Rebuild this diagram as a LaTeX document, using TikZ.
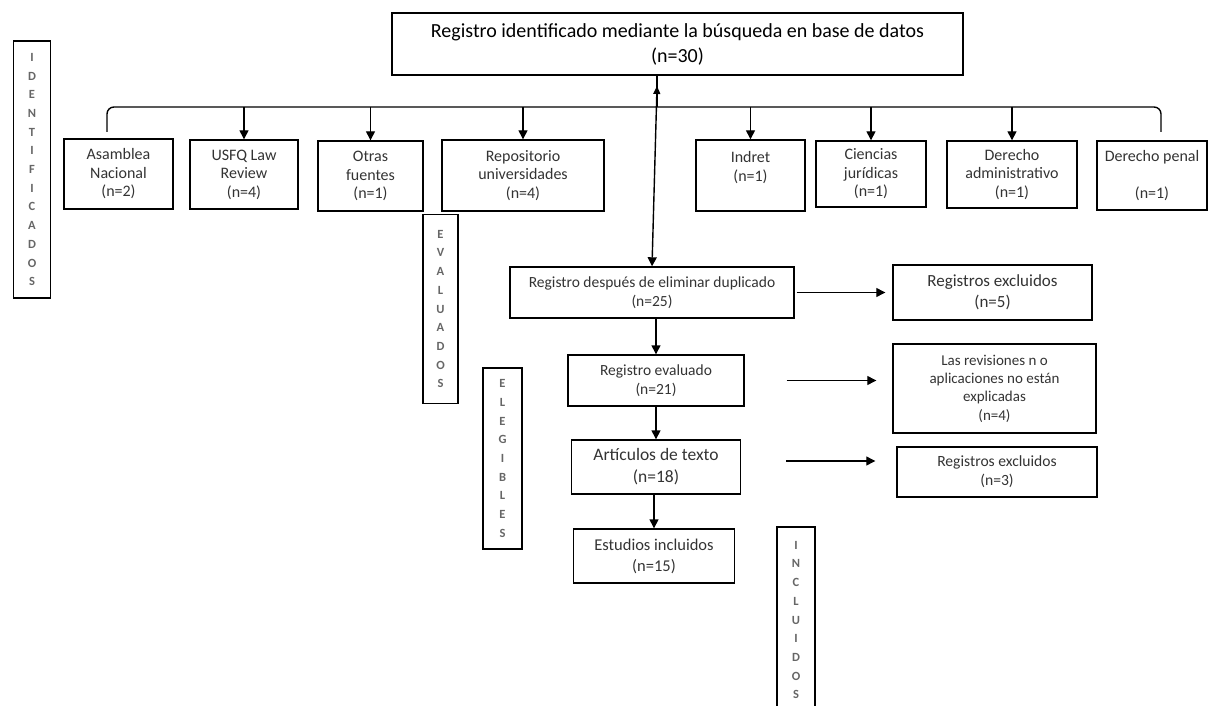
\documentclass[tikz,border=0pt]{standalone}
\usepackage{fontspec}
\setmainfont{Carlito}
\usetikzlibrary{arrows.meta, calc, positioning}

\tikzset{
	box/.style={draw, line width=1.4pt, align=center, inner sep=0pt, text=black!80},
	letters/.style={draw, line width=1.4pt, align=center, inner sep=0pt, minimum width=37, text=black!60, font=\fontsize{12.5}{18.7}\selectfont\bfseries},
	flow/.style={-{Triangle[length=9pt,width=9pt]}, line width=1.4pt},
	small/.style={font=\fontsize{16}{18.5}\selectfont}
}

\begin{document}
\begin{tikzpicture}[x=1pt,y=-1pt]
			\useasboundingbox (0,0) rectangle (1215,706);
			
			\node(top) [box, text=black, minimum width=571, minimum height=62, font=\fontsize{20}{25}\selectfont] at (677.5,44) {Registro identificado mediante la búsqueda en base de datos\\ (n=30)};
			
			% sources
			\node(asamblea) [box, small, minimum width=109, minimum height=70] at (118.5,174) {Asamblea\\ Nacional\\ (n=2)};
			\node(usfq) [box, small, minimum width=108, minimum height=69] at (244,174.5) {USFQ Law\\ Review\\ (n=4)};
			\node(otras) [box, small, minimum width=105, minimum height=70] at (370.5,176) {Otras\\ fuentes\\ (n=1)};
			\node(repositorio) [box, small, minimum width=162, minimum height=71] at (523,175.5) {Repositorio\\ universidades\\ (n=4)};
			\node(indret) [box, small, minimum width=109, minimum height=71] at (750.5,175.5) {Indret\\ (n=1)\\ \mbox{}};
			\node(ciencias) [box, small, minimum width=110, minimum height=66] at (871,174) {Ciencias\\ jurídicas\\ (n=1)};
			\node(administrativo) [box, small, minimum width=130, minimum height=67] at (1012,174.5) {Derecho\\ administrativo\\ (n=1)};
			\node(penal) [box, small, minimum width=110, minimum height=69] at (1152,175.5) {Derecho penal\\ \mbox{}\\ (n=1)};
			
			% phase labels
			\node(identificados) [letters, minimum height=257] at (32,169.5) {I\\D\\E\\N\\T\\I\\F\\I\\C\\A\\D\\O\\S};
			\node(evaluados) [letters, minimum width=35, minimum height=189] at (440.5,309) {E\\V\\A\\L\\U\\A\\D\\O\\S};
			\node(elegibles) [letters, minimum width=39, minimum height=181] at (502.5,458.5) {E\\L\\E\\G\\I\\B\\L\\E\\S};
			\node(incluidos) [letters, minimum width=38, minimum height=186] at (796,620) {I\\N\\C\\L\\U\\I\\D\\O\\S};
			
			% main flow
			\node(duplicado) [box, minimum width=284, minimum height=51, font=\fontsize{15.5}{19}\selectfont] at (652,292.5) {Registro después de eliminar duplicado\\ (n=25)};
			\node(excluidos) [box, minimum width=199, minimum height=55, font=\fontsize{17}{21}\selectfont] at (992.5,292.5) {Registros excluidos\\ (n=5)};
			\node(evaluado) [box, minimum width=176, minimum height=51, font=\fontsize{15.5}{19}\selectfont] at (656,380.5) {Registro evaluado\\ (n=21)};
			\node(revisiones) [box, minimum width=203, minimum height=89, font=\fontsize{15}{18.3}\selectfont] at (994.5,388.5) {Las revisiones n o\\ aplicaciones no están\\ explicadas\\ (n=4)};
			\node(articulos) [box, minimum width=169, minimum height=54, font=\fontsize{17.5}{22}\selectfont] at (656,467) {Artículos de texto\\ (n=18)};
			\node(excluidosb) [box, minimum width=200, minimum height=50, font=\fontsize{15.6}{19}\selectfont] at (997,472) {Registros excluidos\\ (n=3)};
			\node(estudios) [box, minimum width=161, minimum height=54, font=\fontsize{16.5}{21}\selectfont] at (654,556) {Estudios incluidos\\ (n=15)};
			
			% bracket under the search box
			\coordinate(junc) at (657,107);
			\coordinate(jtip) at (657,86);
			\coordinate(bl) at (107,132);
			\coordinate(br) at (1161,132);
			\draw[line width=1.4pt] (top.south -| junc) -- (junc);
			\draw[line width=1.4pt, rounded corners=7] (bl) -- (bl |- junc) -- (br |- junc) -- (br);
			\draw[line width=1.4pt, {Triangle[length=8pt,width=7pt]}-{Triangle[length=9pt,width=9pt]}] (jtip) -- (duplicado.north);
			
			\draw[flow] (usfq.north |- junc) -- (usfq.north);
			\draw[flow] (otras.north |- junc) -- (otras.north);
			\draw[flow] (repositorio.north |- junc) -- (repositorio.north);
			\draw[flow] (indret.north |- junc) -- (indret.north);
			\draw[flow] (ciencias.north |- junc) -- (ciencias.north);
			\draw[flow] (administrativo.north |- junc) -- (administrativo.north);
			
			\draw[flow] (duplicado.south -| evaluado.north) -- (evaluado.north);
			\draw[flow] (evaluado) -- (articulos);
			\draw[flow] (articulos.south -| estudios.north) -- (estudios.north);
			
			\draw[flow, line width=1.2pt, shorten <=2pt, shorten >=7pt] (duplicado.east) -- (duplicado.east -| excluidos.west);
			\draw[flow, line width=1.2pt, shorten <=42pt, shorten >=16pt] (evaluado.east) -- (evaluado.east -| revisiones.west);
			\draw[flow, line width=1.2pt, shorten <=45pt, shorten >=21pt] ($(articulos.east)+(0,-6)$) -- ($(articulos.east -| excluidosb.west)+(0,-6)$);
		\end{tikzpicture}
\end{document}
